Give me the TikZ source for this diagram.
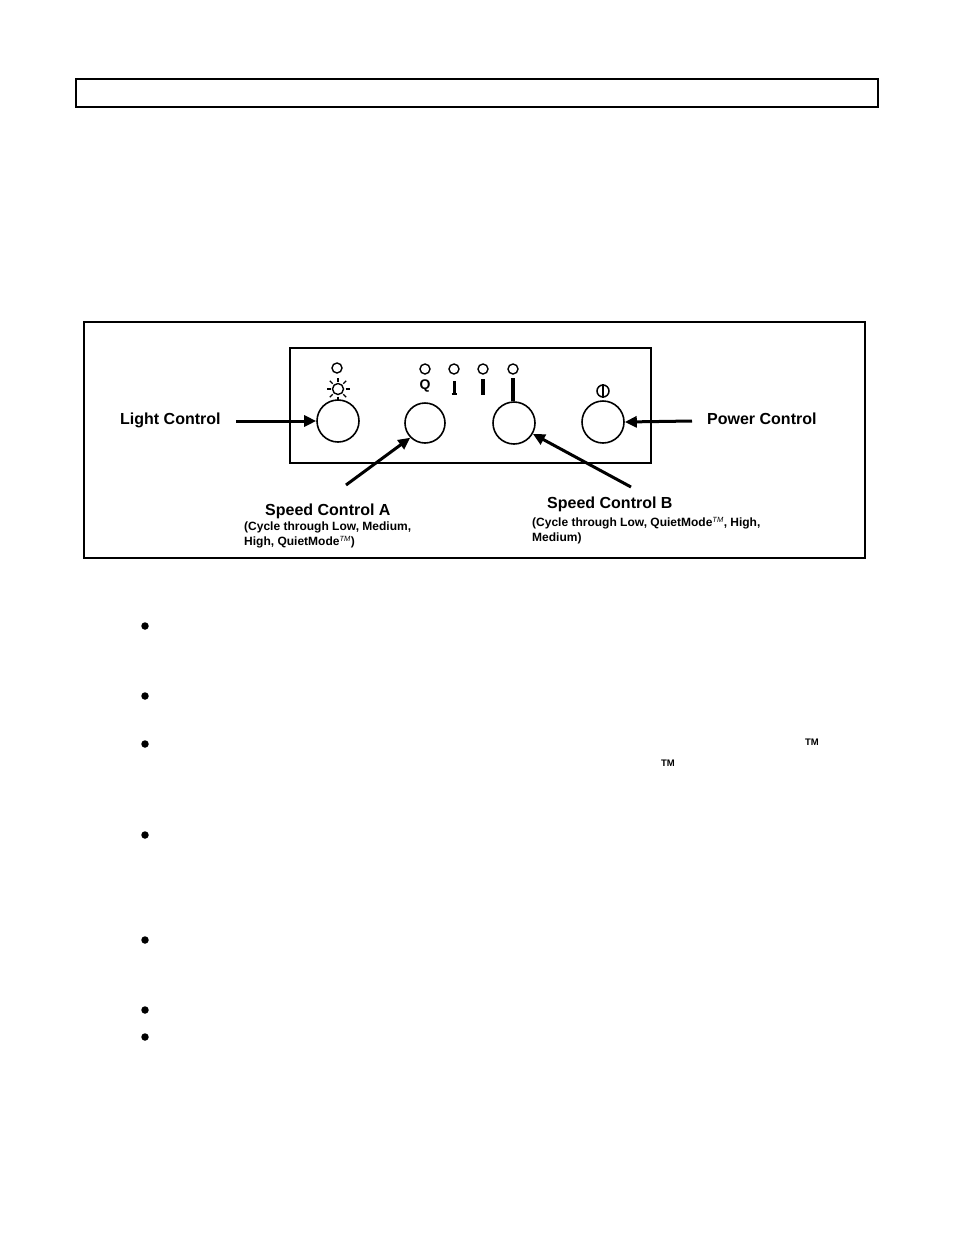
\documentclass[tikz,border=0pt]{standalone}
\usepackage{fontspec}
\setmainfont{Liberation Sans}
\usetikzlibrary{arrows.meta}
\begin{document}
\begin{tikzpicture}[x=1pt,y=-1pt,
  frame/.style={draw=black,line width=1.5pt},
  btn/.style={circle,draw=black,line width=1.6pt,minimum size=42pt,inner sep=0pt},
  led/.style={circle,draw=black,line width=1.4pt,minimum size=10pt,inner sep=0pt},
  lbl/.style={font=\fontsize{16}{19}\selectfont\bfseries,inner sep=0pt},
  sub/.style={font=\fontsize{12}{14.8}\selectfont\bfseries,inner sep=0pt,align=left},
  arr/.style={line width=3pt,-{Triangle[length=12pt,width=11pt]}},
  bullet/.style={circle,fill=black,minimum size=7.5pt,inner sep=0pt},
  tm/.style={font=\fontsize{9.5}{9.5}\selectfont\bfseries,inner sep=0pt}]
\newcommand{\tmsup}{\textsuperscript{\fontsize{7.5}{7.5}\selectfont\mdseries\itshape TM}}
\useasboundingbox (0,0) rectangle (954,1235);
\fill[white] (0,0) rectangle (954,1235);
% top box
\draw[frame] (76,79) rectangle (878,107);
% outer frame
\draw[frame,line width=1.3pt] (84,322) rectangle (865,558);
% panel
\draw[line width=2.2pt] (290,348) rectangle (651,463);
% buttons
\node[btn] (light) at (338,421) {};
\node[btn,minimum size=40pt] (spa) at (425,423) {};
\node[btn] (spb) at (514,423) {};
\node[btn] (pwr) at (603,422) {};
% leds
\node[led] (l0) at (337,368) {};
\node[led] (l1) at (425,369) {};
\node[led] (l2) at (454,369) {};
\node[led] (l3) at (483,369) {};
\node[led] (l4) at (513,369) {};
% sun icon
\node[circle,draw,line width=1.4pt,minimum size=11pt,inner sep=0pt] (sun) at (338,389) {};
\foreach \a in {0,45,...,315}
  \draw[line width=1.3pt] (sun.center) ++(\a:7.5) -- ++(\a:4);
% Q and bars
\node[font=\fontsize{14}{14}\selectfont\bfseries,inner sep=0pt] (q) at (425,386) {Q};
\draw[line width=3pt] (454,381) -- (454,394);
\draw[line width=1.6pt] (451.5,394) -- (457,394);
\draw[line width=3.4pt] (483,379) -- (483,395);
\draw[line width=3.4pt] (513,378) -- (513,401);
% power symbol
\node[circle,draw,line width=1.5pt,minimum size=12pt,inner sep=0pt] (ps) at (603,391) {};
\draw[line width=1.5pt] (603,384) -- (603,398);
% labels
\node[lbl,anchor=west] (tlight) at (120,420) {Light Control};
\node[lbl,anchor=west] (tpwr) at (707,419) {Power Control};
\node[lbl,anchor=west] (tspa) at (265,511) {Speed Control A};
\node[sub,anchor=north west] (sspa) at (244,522) {(Cycle through Low, Medium,\\High, QuietMode\tmsup)};
\node[lbl,anchor=west] (tspb) at (547,504) {Speed Control B};
\node[sub,anchor=north west] (sspb) at (532,517) {(Cycle through Low, QuietMode\tmsup, High,\\Medium)};
% arrows
\coordinate (a1) at (236,421);
\coordinate (a2) at (692,421);
\coordinate (a3) at (346,485);
\coordinate (a4) at (631,487);
\draw[arr] (a1) -- (light.west);
\draw[arr] (a2) -- (pwr.east);
\draw[arr] (a3) -- (spa.225);
\draw[arr] (a4) -- (spb.-30);
% bullets
\foreach \y [count=\i] in {626,696,744,835,940,1010,1037}
  \node[bullet] (b\i) at (145,\y) {};
\node[tm] (tm1) at (812,742) {TM};
\node[tm] (tm2) at (668,763) {TM};
\end{tikzpicture}
\end{document}
